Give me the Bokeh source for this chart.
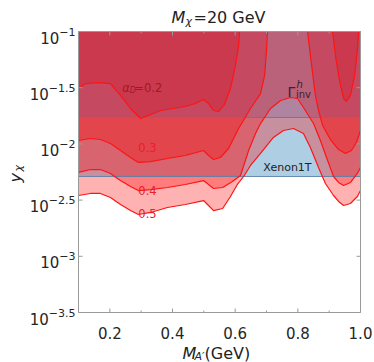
import math
from bokeh.plotting import figure
from bokeh.models import Label, Range1d
from bokeh.embed import file_html
from bokeh.resources import INLINE

# ---------------- data (x in GeV, y as log10 of y_chi) ----------------
a02_x = [0.100, 0.122, 0.164, 0.202, 0.234, 0.266, 0.298, 0.330, 0.362, 0.400, 0.441, 0.473, 0.499,
         0.515, 0.531, 0.547, 0.566, 0.585, 0.601, 0.611, 0.614, 0.911, 0.920, 0.933, 0.946, 0.955,
         0.968, 0.981, 0.990, 0.994, 1.000]
a02_y = [-1.507, -1.463, -1.454, -1.463, -1.569, -1.685, -1.774, -1.738, -1.703, -1.685, -1.667, -1.641,
         -1.605, -1.641, -1.703, -1.712, -1.649, -1.507, -1.302, -1.125, -1.000, -1.000, -1.214, -1.436,
         -1.596, -1.623, -1.569, -1.391, -1.169, -1.000, -1.000]

a03_x = [0.100, 0.138, 0.170, 0.202, 0.234, 0.266, 0.291, 0.330, 0.384, 0.441, 0.499, 0.515, 0.531,
         0.553, 0.579, 0.611, 0.649, 0.681, 0.694, 0.700, 0.703, 0.831, 0.844, 0.856, 0.866, 0.879,
         0.904, 0.930, 0.952, 0.971, 0.987, 1.000]
a03_y = [-1.970, -1.952, -1.961, -1.996, -2.059, -2.121, -2.165, -2.157, -2.130, -2.103, -2.059, -2.103,
         -2.139, -2.121, -2.041, -1.863, -1.685, -1.552, -1.391, -1.169, -1.000, -1.000, -1.302, -1.569,
         -1.703, -1.836, -1.961, -2.050, -2.085, -2.059, -1.988, -1.881]

a04_x = [0.100, 0.138, 0.170, 0.202, 0.234, 0.266, 0.291, 0.330, 0.384, 0.441, 0.499, 0.515, 0.531,
         0.560, 0.591, 0.617, 0.643, 0.665, 0.681, 0.713, 0.745, 0.777, 0.799, 0.818, 0.850, 0.872,
         0.895, 0.914, 0.930, 0.946, 0.968, 0.990, 1.000]
a04_y = [-2.254, -2.228, -2.228, -2.263, -2.326, -2.379, -2.415, -2.406, -2.388, -2.361, -2.326, -2.361,
         -2.397, -2.388, -2.335, -2.281, -2.059, -1.907, -1.819, -1.685, -1.614, -1.587, -1.596, -1.676,
         -1.819, -1.970, -2.148, -2.290, -2.343, -2.370, -2.343, -2.263, -2.210]

a05_x = [0.100, 0.138, 0.170, 0.202, 0.234, 0.266, 0.291, 0.330, 0.384, 0.441, 0.499, 0.515, 0.531,
         0.560, 0.585, 0.607, 0.627, 0.649, 0.681, 0.722, 0.754, 0.786, 0.818, 0.840, 0.866, 0.888,
         0.914, 0.930, 0.946, 0.968, 0.990, 1.000]
a05_y = [-2.459, -2.441, -2.441, -2.477, -2.539, -2.593, -2.628, -2.610, -2.566, -2.539, -2.504, -2.548,
         -2.593, -2.575, -2.468, -2.361, -2.290, -2.192, -2.085, -1.943, -1.881, -1.863, -1.907, -2.032,
         -2.210, -2.352, -2.459, -2.512, -2.548, -2.530, -2.468, -2.415]

xenon_log = -2.29          # Xenon1T bound (log10 y_chi)
gamma_log = -1.765         # invisible Higgs width bound (log10 y_chi)
x_lo, x_hi = 0.1, 1.0
ylog_lo, ylog_hi = -3.5, -1.0

x_ticks = [0.2, 0.4, 0.6, 0.8, 1.0]
x_tick_texts = ["0.2", "0.4", "0.6", "0.8", "1.0"]
x_minor = [0.1, 0.3, 0.5, 0.7, 0.9]
y_tick_exps = [-1.0, -1.5, -2.0, -2.5, -3.0, -3.5]
y_tick_texts = ["\u22121", "\u22121.5", "\u22122", "\u22122.5", "\u22123", "\u22123.5"]

curves = [(a02_x, a02_y), (a03_x, a03_y), (a04_x, a04_y), (a05_x, a05_y)]

# ---------------- layout: frame spans the whole canvas ----------------
W, H = 374, 362
FL, FR, FT, FB = 78, 360, 31, 312          # pixel box of the data area
kx = (x_hi - x_lo) / (FR - FL)             # GeV per pixel
ky = (ylog_hi - ylog_lo) / (FB - FT)       # decades per pixel
X0 = x_lo - FL * kx
X1 = x_hi + (W - FR) * kx
L_top = ylog_hi + FT * ky
L_bot = ylog_lo - (H - FB) * ky

FONT = "DejaVu Sans"
TOP = 10 ** ylog_hi
BOT = 10 ** ylog_lo
AX = "#9a9a9a"

p = figure(width=W, height=H, x_range=Range1d(X0, X1), y_range=Range1d(10 ** L_bot, 10 ** L_top),
           y_axis_type="log", output_backend="svg", toolbar_location=None, title=None,
           x_axis_location=None, y_axis_location=None, min_border=0)
p.grid.visible = False
p.outline_line_color = None
p.background_fill_color = "white"
p.border_fill_color = "white"

# Xenon1T band
p.varea(x=[x_lo, x_hi], y1=[10 ** xenon_log] * 2, y2=[TOP] * 2,
        fill_color="#1f77b4", fill_alpha=0.36)

# alpha_D regions
for cx, cy in curves:
    p.varea(x=cx, y1=[10 ** v for v in cy], y2=[TOP] * len(cx),
            fill_color="red", fill_alpha=0.30)

# Gamma_inv band
p.varea(x=[x_lo, x_hi], y1=[10 ** gamma_log] * 2, y2=[TOP] * 2,
        fill_color="#5a5aa8", fill_alpha=0.22)
p.line(x=[x_lo, x_hi], y=[10 ** gamma_log] * 2, line_color="#7a6a8a", line_width=1.0, line_alpha=0.8)
p.line(x=[x_lo, x_hi], y=[10 ** xenon_log] * 2, line_color="#5a7fa8", line_width=1.0, line_alpha=0.9)


def gap_line(xs, ls):
    gx, gy = [], []
    for i, (xv, lv) in enumerate(zip(xs, ls)):
        if i > 0 and lv >= ylog_hi and ls[i - 1] >= ylog_hi:
            gx.append(float("nan"))
            gy.append(float("nan"))
        gx.append(xv)
        gy.append(10 ** lv)
    return gx, gy


for cx, cy in curves:
    gx, gy = gap_line(cx, cy)
    p.line(x=gx, y=gy, line_color="#ff1414", line_width=1.2)

# ---------------- axes (box + inward ticks) ----------------
p.line(x=[x_lo, x_hi, x_hi, x_lo, x_lo], y=[BOT, BOT, TOP, TOP, BOT], line_color=AX, line_width=1)
n = len(x_ticks)
m = len(x_minor)
p.segment(x0=x_ticks, y0=[BOT] * n, x1=x_ticks, y1=[10 ** (ylog_lo + 4 * ky)] * n, line_color=AX)
p.segment(x0=x_ticks, y0=[TOP] * n, x1=x_ticks, y1=[10 ** (ylog_hi - 4 * ky)] * n, line_color=AX)
p.segment(x0=x_minor, y0=[BOT] * m, x1=x_minor, y1=[10 ** (ylog_lo + 2 * ky)] * m, line_color=AX)
p.segment(x0=x_minor, y0=[TOP] * m, x1=x_minor, y1=[10 ** (ylog_hi - 2 * ky)] * m, line_color=AX)
yt = [10 ** e for e in y_tick_exps]
k = len(yt)
p.segment(x0=[x_lo] * k, y0=yt, x1=[x_lo + 4 * kx] * k, y1=yt, line_color=AX)
p.segment(x0=[x_hi] * k, y0=yt, x1=[x_hi - 4 * kx] * k, y1=yt, line_color=AX)


def lab(x, y, text, dx=0, dy=0, size="14px", color="#222222", style="normal",
        align="left", baseline="alphabetic", angle=0.0):
    p.add_layout(Label(x=x, y=y, x_offset=dx, y_offset=dy, text=text, text_font=FONT,
                       text_font_size=size, text_color=color, text_font_style=style,
                       text_align=align, text_baseline=baseline, angle=angle))


# x tick labels
for xv, t in zip(x_ticks, x_tick_texts):
    lab(xv, BOT, t, dy=-20, size="15px", align="center", color="#262626")

# y tick labels: "10" + superscript exponent
char_w = {"\u2212": 0.838, ".": 0.318}
for e, t in zip(y_tick_exps, y_tick_texts):
    w = sum(char_w.get(c, 0.636) for c in t) * 11
    lab(x_lo, 10 ** e, t, dx=-3, dy=0, size="11px", align="right", color="#262626")
    lab(x_lo, 10 ** e, "10", dx=-(3 + w), dy=-6, size="15px", align="right", color="#262626")

# title
lab(x_lo, TOP, "M", dx=93, dy=14, size="16px", style="italic")
lab(x_lo, TOP, "\u03c7", dx=107, dy=10, size="11px", style="italic")
lab(x_lo, TOP, "=20 GeV", dx=115, dy=14, size="16px")

# x axis label
lab(x_lo, BOT, "M", dx=104, dy=-41, size="16px", style="italic")
lab(x_lo, BOT, "A\u2032", dx=116, dy=-44, size="11px", style="italic")
lab(x_lo, BOT, "(GeV)", dx=126, dy=-41, size="16px")

# y axis label (rotated)
lab(x_lo, 10 ** -2.343, "y", dx=-63, dy=0, size="16px", style="italic", angle=math.pi / 2)
lab(x_lo, 10 ** -2.343, "\u03c7", dx=-60, dy=11, size="11px", style="italic", angle=math.pi / 2)

# region labels
lab(0.240, 10 ** -1.5, "\u03b1", size="11.5px", color="#9b1b26", style="italic")
lab(0.240, 10 ** -1.5, "D", dx=7.5, dy=-3, size="8px", color="#9b1b26", style="italic")
lab(0.240, 10 ** -1.5, "=0.2", dx=12, size="11.5px", color="#9b1b26")
lab(0.291, 10 ** -2.032, "0.3", size="11.5px", color="#e8202a")
lab(0.291, 10 ** -2.415, "0.4", size="11.5px", color="#e8202a")
lab(0.291, 10 ** -2.619, "0.5", size="11.5px", color="#e8202a")
lab(0.767, 10 ** -1.534, "\u0393", size="14px", color="#3a2030")
lab(0.767, 10 ** -1.534, "h", dx=9, dy=7, size="10px", color="#3a2030", style="italic")
lab(0.767, 10 ** -1.534, "inv", dx=8.5, dy=-3, size="10px", color="#3a2030")
lab(0.690, 10 ** -2.210, "Xenon1T", size="11px", color="#222222")

open("out.html", "w").write(file_html(p, INLINE))
